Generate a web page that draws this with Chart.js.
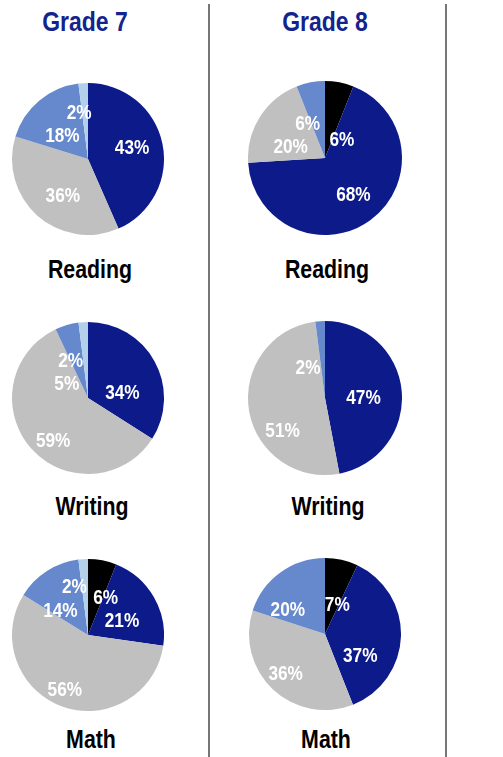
<!DOCTYPE html>
<html>
<head>
<meta charset="utf-8">
<script src="https://cdn.jsdelivr.net/npm/chart.js@4"></script>
<style>
  html, body { margin:0; padding:0; background:#fff; }
  body { width:503px; height:757px; position:relative; overflow:hidden; }
  .narrow { font-family:"Liberation Sans",Arial,sans-serif; font-weight:bold; position:absolute; white-space:nowrap; transform:translateX(-50%) scaleX(0.82); transform-origin:50% 50%; line-height:1; }
  .title { color:#15238C; font-size:28px; }
  .subj { color:#000; font-size:26px; }
  .vline { position:absolute; width:2px; background:#767676; top:4px; height:753px; }
  canvas { position:absolute; }
</style>
</head>
<body>
<div class="vline" style="left:208px"></div>
<div class="vline" style="left:445px"></div>
<script>
// ---- data ----
const grades = ['Grade 7', 'Grade 8'];
const subjects = ['Reading', 'Writing', 'Math'];
const bands = ['Band 1', 'Band 2', 'Band 3', 'Band 4', 'Band 5'];
const grade7Reading = [0, 43, 36, 18, 2];
const grade8Reading = [6, 68, 20, 6, 0];
const grade7Writing = [0, 34, 59, 5, 2];
const grade8Writing = [0, 47, 51, 2, 0];
const grade7Math    = [6, 21, 56, 14, 2];
const grade8Math    = [7, 37, 36, 20, 0];

// ---- styling / layout ----
const bandColors = ['#000000', '#0D1A8A', '#C0C0C0', '#6688CC', '#B3D0EA'];
const FONT = '"Liberation Sans",Arial,sans-serif';
const colX = [87.5, 324.5];
const rowY = [[159, 398, 635], [158, 398, 634]];
const radius = [[76, 76, 76], [77, 77, 76]];
const titleTop = 8;
const subjTop = [[256, 493, 726], [256, 493, 726]];
const subjX = [[90, 91.5, 91], [327, 328, 326]];
// label nudges: [angle shift in degrees, fraction of radius]
const nudges = [
  [ [[0,0.5],[-3,0.6],[-7,0.58],[-7,0.46],[-7,0.63]],
    [[0,0.5],[19,0.46],[-9,0.72],[-39,0.34],[-21,0.55]],
    [[14,0.55],[6,0.49],[3,0.78],[-15,0.49],[-12,0.66]] ],
  [ [[31,0.33],[-2,0.6],[-14,0.47],[-16,0.5],[0,0.5]],
    [[0,0.5],[4,0.5],[-28,0.69],[-25,0.46],[0,0.5]],
    [[10,0.42],[29,0.54],[2,0.73],[-20,0.59],[0,0.5]] ]
];
const series = [[grade7Reading, grade7Writing, grade7Math], [grade8Reading, grade8Writing, grade8Math]];

const labelPlugin = {
  id: 'pctLabels',
  afterDatasetsDraw(chart) {
    const ctx = chart.ctx;
    const meta = chart.getDatasetMeta(0);
    const vals = chart.data.datasets[0].data;
    const nd = chart.options.plugins.pctLabels.nudges;
    meta.data.forEach((arc, i) => {
      if (!vals[i]) return;
      const p = arc.getProps(['x','y','startAngle','endAngle','outerRadius'], true);
      const mid = (p.startAngle + p.endAngle) / 2 + nd[i][0] * Math.PI / 180;
      const r = p.outerRadius * nd[i][1];
      ctx.save();
      ctx.translate(p.x + Math.cos(mid) * r, p.y + Math.sin(mid) * r);
      ctx.scale(0.82, 1);
      ctx.fillStyle = '#ffffff';
      ctx.font = 'bold 21px ' + FONT;
      ctx.textAlign = 'center';
      ctx.textBaseline = 'middle';
      ctx.fillText(vals[i] + '%', 0, 1);
      ctx.restore();
    });
  }
};

grades.forEach((g, gi) => {
  const t = document.createElement('div');
  t.className = 'narrow title';
  t.textContent = g;
  t.style.left = (gi === 0 ? 84.5 : 324.5) + 'px';
  t.style.top = titleTop + 'px';
  document.body.appendChild(t);
  subjects.forEach((s, si) => {
    const r = radius[gi][si];
    const cv = document.createElement('canvas');
    cv.width = 2 * r; cv.height = 2 * r;
    cv.style.width = 2 * r + 'px'; cv.style.height = 2 * r + 'px';
    cv.style.left = (colX[gi] - r) + 'px';
    cv.style.top = (rowY[gi][si] - r) + 'px';
    document.body.appendChild(cv);
    new Chart(cv, {
      type: 'pie',
      data: { labels: bands, datasets: [{ data: series[gi][si], backgroundColor: bandColors, borderWidth: 0 }] },
      options: {
        responsive: false, animation: false, devicePixelRatio: 1,
        layout: { padding: 0 },
        plugins: { legend: { display: false }, tooltip: { enabled: false }, pctLabels: { nudges: nudges[gi][si] } }
      },
      plugins: [labelPlugin]
    });
    const l = document.createElement('div');
    l.className = 'narrow subj';
    l.textContent = s;
    l.style.left = subjX[gi][si] + 'px';
    l.style.top = subjTop[gi][si] + 'px';
    document.body.appendChild(l);
  });
});
</script>
</body>
</html>
